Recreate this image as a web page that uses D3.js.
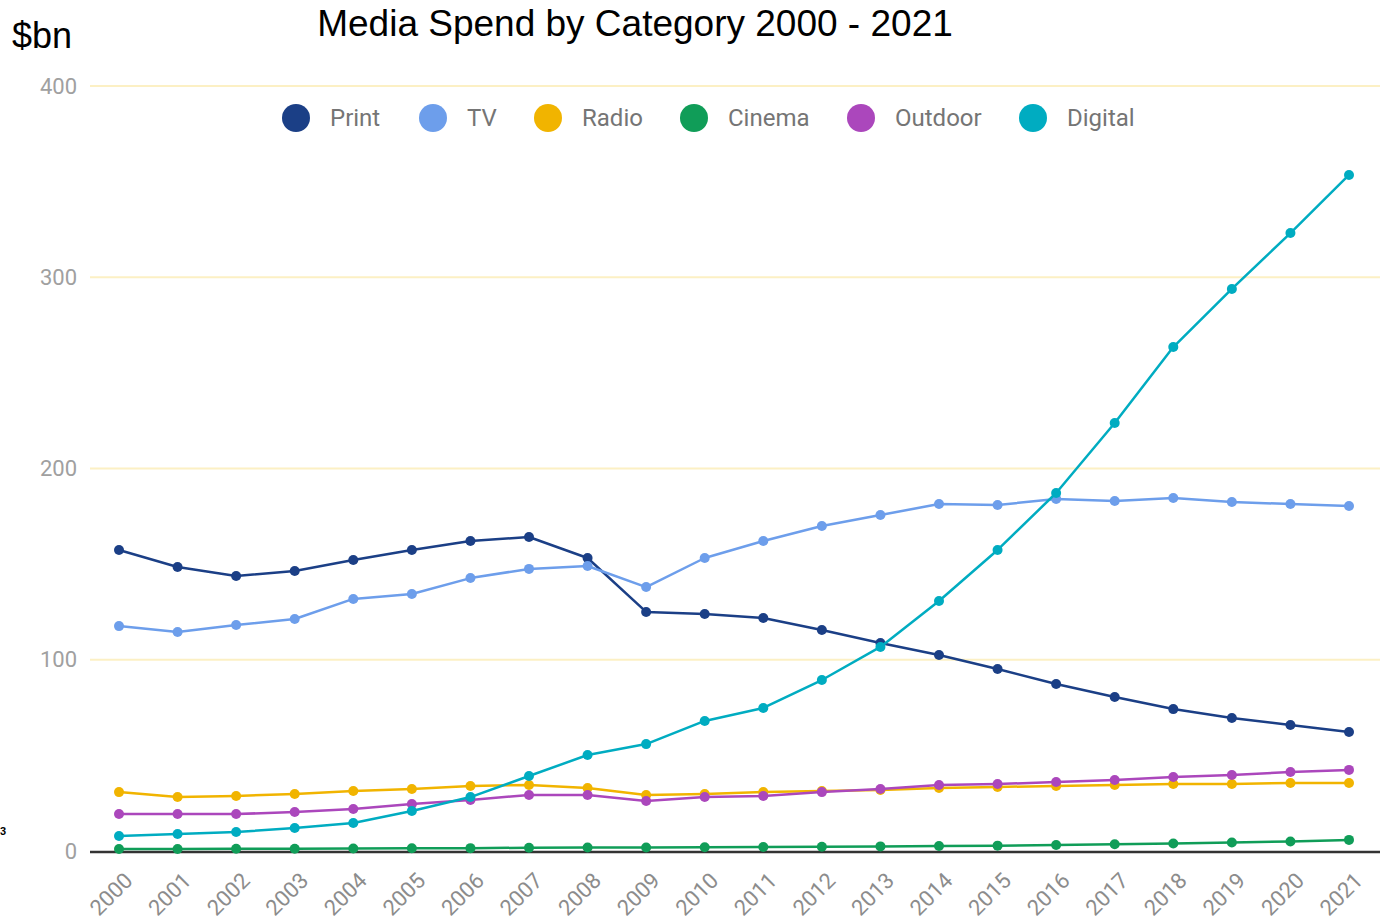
<!DOCTYPE html>
<html>
<head>
<meta charset="utf-8">
<script src="https://cdn.jsdelivr.net/npm/d3@7"></script>
<style>
  html, body { margin: 0; padding: 0; background: #ffffff; }
  svg { display: block; }
</style>
</head>
<body>
<svg id="chart" width="1384" height="924"></svg>
<script>
// Years on the x axis
const years = ["2000","2001","2002","2003","2004","2005","2006","2007","2008","2009","2010",
               "2011","2012","2013","2014","2015","2016","2017","2018","2019","2020","2021"];

// Spend by media category, $bn
const print   = [157.4,148.5,143.8,146.4,152.2,157.4,162.1,164.2,153.2,125.0,123.9,121.8,115.6,108.8,102.5,95.2,87.3,80.5,74.2,69.5,65.9,62.2];
const tv      = [117.6,114.5,118.2,121.3,131.8,134.4,142.7,147.5,149.0,138.0,153.2,162.1,169.9,175.7,181.4,180.9,184.1,183.0,184.6,182.5,181.4,180.4];
const radio   = [30.8,28.2,28.8,29.8,31.4,32.4,34.0,34.5,32.9,29.3,29.8,30.8,31.4,31.9,32.9,33.5,34.0,34.5,35.0,35.0,35.6,35.6];
const cinema  = [1.0,1.0,1.2,1.2,1.3,1.4,1.5,1.7,1.8,1.8,2.0,2.1,2.2,2.4,2.6,2.8,3.1,3.5,3.9,4.4,5.0,5.8];
const outdoor = [19.3,19.3,19.3,20.4,22.0,24.6,26.7,29.3,29.3,26.1,28.2,28.8,30.8,32.4,34.5,35.0,36.1,37.1,38.7,39.7,41.3,42.4];
const digital = [7.8,8.9,9.9,12.0,14.6,20.9,28.2,39.2,50.2,55.9,68.0,74.8,89.4,106.7,130.7,157.4,187.2,223.8,263.5,293.9,323.1,353.5];

const seriesNames = ["Print","TV","Radio","Cinema","Outdoor","Digital"];
const seriesValues = [print, tv, radio, cinema, outdoor, digital];
const yTicks = [0, 100, 200, 300, 400];

const colors = {
  Print: "#1b3f86", TV: "#6d9eeb", Radio: "#f1b400",
  Cinema: "#109d58", Outdoor: "#ab47bc", Digital: "#00acc1"
};

const svg = d3.select("#chart");

const x = d3.scalePoint().domain(years).range([119, 1349]);
const y = d3.scaleLinear().domain([0, 400]).range([851, 86]);

// Gridlines
svg.append("g")
  .selectAll("line")
  .data(yTicks.filter(t => t > 0))
  .join("line")
  .attr("x1", 90).attr("x2", 1380)
  .attr("y1", d => y(d)).attr("y2", d => y(d))
  .attr("stroke", "#fcf0c4").attr("stroke-width", 2);

// Y tick labels
svg.append("g")
  .selectAll("text")
  .data(yTicks)
  .join("text")
  .attr("x", 77).attr("y", d => y(d))
  .attr("dy", "0.35em")
  .attr("text-anchor", "end")
  .attr("font-family", "Roboto, sans-serif")
  .attr("font-size", 22)
  .attr("fill", "#a0a0a0")
  .text(d => d);

// Baseline
svg.append("line")
  .attr("x1", 90).attr("x2", 1380)
  .attr("y1", y(0) + 1).attr("y2", y(0) + 1)
  .attr("stroke", "#333333").attr("stroke-width", 2.5);

// X tick labels, rotated
svg.append("g")
  .selectAll("text")
  .data(years)
  .join("text")
  .attr("transform", d => `translate(${x(d) + 15},${882}) rotate(-45)`)
  .attr("text-anchor", "end")
  .attr("font-family", "Roboto, sans-serif")
  .attr("font-size", 22)
  .attr("fill", "#8c8c8c")
  .text(d => d);

// Lines and markers
const line = d3.line().x((d, i) => x(years[i])).y(d => y(d));
const plot = svg.append("g");
seriesNames.forEach((name, k) => {
  const vals = seriesValues[k];
  plot.append("path")
    .attr("d", line(vals))
    .attr("fill", "none")
    .attr("stroke", colors[name])
    .attr("stroke-width", 2.5)
    .attr("stroke-linejoin", "round");
  plot.append("g")
    .selectAll("circle")
    .data(vals)
    .join("circle")
    .attr("cx", (d, i) => x(years[i]))
    .attr("cy", d => y(d))
    .attr("r", 5)
    .attr("fill", colors[name]);
});

// Legend
const legendX = [296, 433, 548, 694, 861, 1033];
const legend = svg.append("g");
seriesNames.forEach((name, k) => {
  legend.append("circle")
    .attr("cx", legendX[k]).attr("cy", 118).attr("r", 14)
    .attr("fill", colors[name]);
  legend.append("text")
    .attr("x", legendX[k] + 34).attr("y", 118)
    .attr("dy", "0.35em")
    .attr("font-family", "Roboto, sans-serif")
    .attr("font-size", 24)
    .attr("fill", "#757575")
    .text(name);
});

// Title and unit label
svg.append("text")
  .attr("x", 635).attr("y", 36)
  .attr("text-anchor", "middle")
  .attr("font-family", "'Liberation Sans', Arial, sans-serif")
  .attr("font-size", 37)
  .attr("fill", "#000")
  .text("Media Spend by Category 2000 - 2021");

svg.append("text")
  .attr("x", 12).attr("y", 48)
  .attr("font-family", "'Liberation Sans', Arial, sans-serif")
  .attr("font-size", 36)
  .attr("fill", "#000")
  .text("$bn");

svg.append("text")
  .attr("x", 0).attr("y", 835)
  .attr("font-family", "'Liberation Sans', Arial, sans-serif")
  .attr("font-size", 11)
  .attr("font-weight", "bold")
  .attr("fill", "#000")
  .text("3");
</script>
</body>
</html>
